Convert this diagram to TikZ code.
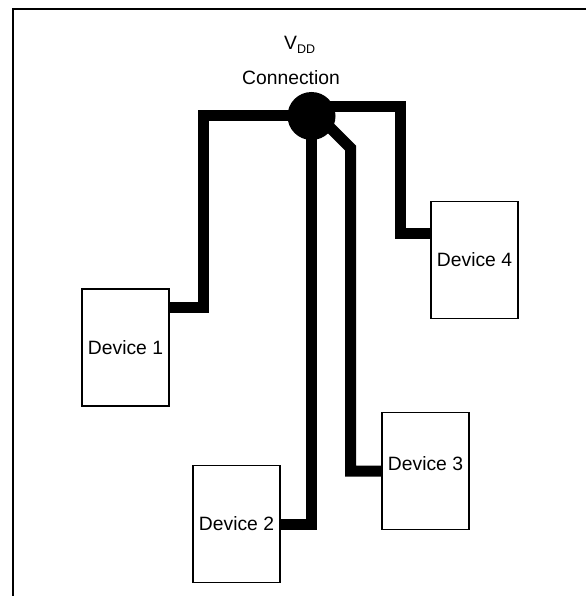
\documentclass[tikz,border=0pt]{standalone}
\usepackage{fontspec}
\setmainfont{Liberation Sans}
\usetikzlibrary{calc,positioning}
\tikzset{
  device/.style = {draw, line width=1.5pt, minimum width=87pt, minimum height=117pt,
                   inner sep=0pt, font=\fontsize{19.3}{23}\selectfont},
  wire/.style   = {line width=11pt, line join=miter},
  hub/.style    = {circle, fill=black, minimum size=48pt, inner sep=0pt},
  frame/.style  = {line width=2pt},
  lbl/.style    = {inner sep=0pt, font=\fontsize{19.3}{23}\selectfont},
}
\begin{document}
\begin{tikzpicture}[x=1pt,y=-1pt]
  \useasboundingbox (0,0) rectangle (586,596);
  \draw[frame] (586,9) -- (13,9) -- (13,596);
  \node[hub] (hub) at (311.5,116) {};
  \node[device] (dev1) at (125.5,347.5) {Device 1};
  \node[device] (dev2) at (236.5,524) {Device 2};
  \node[device] (dev3) at (425.5,471) {\raisebox{14pt}{Device 3}};
  \node[device] (dev4) at (474.5,260) {Device 4};
  \node[lbl] (conn) at (291,77.5) {Connection};
  \node[lbl,anchor=base west] (vdd) at (284,50)
    {V{\fontsize{12.5}{13}\selectfont\raisebox{-4pt}{DD}}};
  \draw[wire] (hub.center) -| ($(dev1.north east)+(34,19)$) -- ($(dev1.north east)+(0,19)$);
  \draw[wire] (hub.center) |- (dev2.east);
  \draw[wire] ($(hub.center)+(7,0)$) -- ++(32,32) |- (dev3.west);
  \draw[wire] ($(hub.center)+(0,-9)$) -| ($(dev4.north west)+(-30,33)$) -- ($(dev4.north west)+(0,33)$);
\end{tikzpicture}
\end{document}
